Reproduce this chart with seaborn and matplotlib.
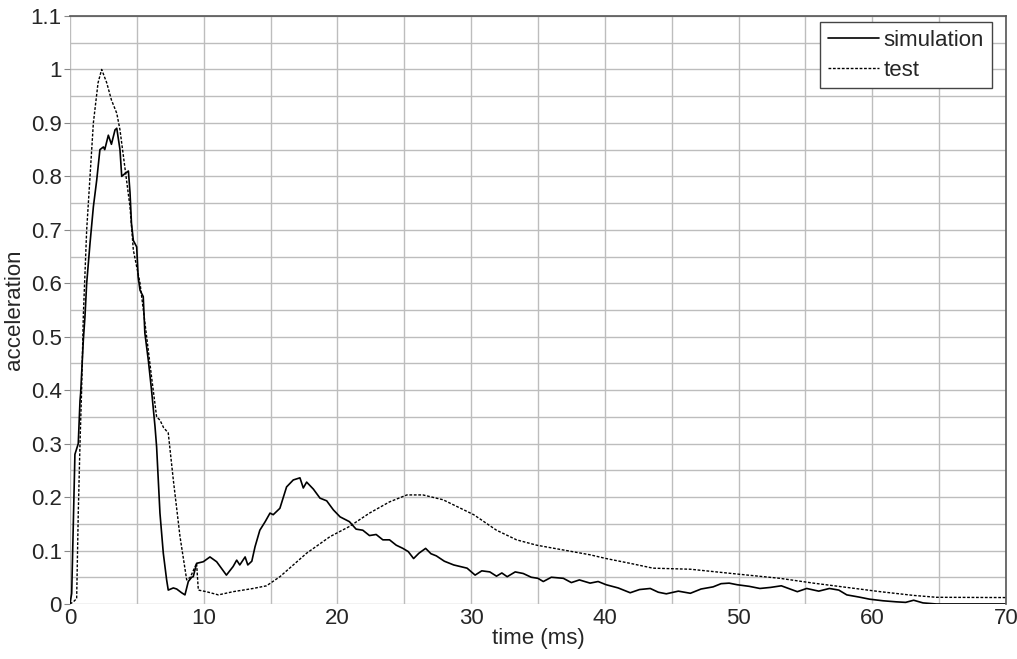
import numpy as np
import pandas as pd
import matplotlib
matplotlib.use("Agg")
import matplotlib.pyplot as plt
import seaborn as sns

# simulation (solid)
sim_t = [0.0, 0.13, 0.25, 0.37, 0.62, 0.75, 0.8, 1.0, 1.12, 1.25, 1.5, 1.75, 2.0, 2.24, 2.5, 2.6,
         2.87, 3.1, 3.37, 3.5, 3.74, 3.87, 4.1, 4.37, 4.49, 4.6, 4.74, 4.99, 5.1, 5.24, 5.48, 5.6,
         5.86, 6.1, 6.36, 6.48, 6.73, 6.98, 7.23, 7.35, 7.73, 7.98, 8.35, 8.6, 8.85, 9.1, 9.22,
         9.47, 9.97, 10.47, 10.97, 11.7, 12.2, 12.47, 12.7, 13.1, 13.3, 13.6, 13.84, 14.2, 14.6,
         14.96, 15.2, 15.7, 16.2, 16.7, 17.2, 17.45, 17.7, 18.2, 18.7, 19.2, 19.7, 20.2, 20.9,
         21.4, 21.9, 22.4, 22.9, 23.4, 23.9, 24.4, 24.9, 25.3, 25.7, 26.1, 26.6, 27.0, 27.4,
         28.0, 28.7, 29.2, 29.7, 30.3, 30.8, 31.4, 31.9, 32.3, 32.7, 33.3, 33.9, 34.5, 35.0,
         35.4, 36.0, 36.9, 37.5, 38.1, 38.9, 39.5, 40.1, 41.0, 41.9, 42.6, 43.4, 44.0, 44.6,
         45.5, 46.4, 47.2, 48.1, 48.7, 49.3, 49.9, 50.8, 51.6, 52.4, 53.2, 54.4, 55.1, 56.0,
         56.8, 57.5, 58.1, 59.0, 59.8, 60.8, 61.8, 62.5, 63.1, 63.8, 64.8, 70.0]
sim_a = [0.0, 0.02, 0.15, 0.28, 0.30, 0.38, 0.395, 0.494, 0.537, 0.60, 0.675, 0.743, 0.793, 0.85,
         0.855, 0.85, 0.877, 0.86, 0.887, 0.89, 0.85, 0.80, 0.805, 0.81, 0.77, 0.712, 0.68, 0.668,
         0.612, 0.587, 0.575, 0.507, 0.456, 0.40, 0.332, 0.294, 0.17, 0.095, 0.045, 0.026, 0.03,
         0.028, 0.021, 0.017, 0.042, 0.05, 0.051, 0.076, 0.079, 0.088, 0.079, 0.054, 0.07, 0.082,
         0.073, 0.088, 0.073, 0.08, 0.107, 0.138, 0.154, 0.17, 0.167, 0.179, 0.219, 0.232, 0.236,
         0.217, 0.228, 0.215, 0.198, 0.193, 0.176, 0.163, 0.154,
         0.140, 0.138, 0.128, 0.13, 0.120, 0.12, 0.110, 0.104, 0.098, 0.085,
         0.095, 0.104, 0.094, 0.09, 0.080, 0.073, 0.070, 0.067, 0.054, 0.062, 0.06, 0.052, 0.058,
         0.051, 0.060, 0.057, 0.050, 0.048, 0.042, 0.050, 0.048, 0.040, 0.045, 0.039, 0.042,
         0.036, 0.030, 0.021, 0.027, 0.029, 0.022, 0.019, 0.024, 0.020, 0.028, 0.032, 0.038, 0.039,
         0.036, 0.033, 0.029, 0.031, 0.034, 0.023, 0.029, 0.024, 0.029, 0.026, 0.017, 0.013, 0.009,
         0.006, 0.004, 0.003, 0.007, 0.002, 0.0, 0.0]

# test (dashed)
test_t = [0.0, 0.25, 0.5, 0.62, 0.75, 0.87, 1.0, 1.25, 1.5, 1.75, 2.1, 2.37, 2.75, 3.1, 3.5, 3.74,
          4.1, 4.49, 4.74, 5.24, 5.7, 6.1, 6.48, 6.73, 7.0, 7.35, 7.73, 8.23, 8.73, 9.0, 9.47,
          9.6, 10.2, 11.1, 12.2, 13.7, 14.7, 15.7, 17.7, 19.45, 20.9, 22.4, 23.9, 25.2, 26.4,
          27.9, 30.2, 31.9, 33.4, 34.9, 36.9, 38.9, 40.1, 41.9, 43.6, 46.4, 49.9, 53.1, 55.6,
          58.1, 60.6, 63.1, 64.8, 70.0]
test_a = [0.0, 0.004, 0.01, 0.17, 0.30, 0.40, 0.54, 0.70, 0.80, 0.90, 0.975, 1.0, 0.975, 0.943,
          0.918, 0.887, 0.818, 0.743, 0.662, 0.60, 0.507, 0.425, 0.35, 0.344, 0.33, 0.32, 0.232,
          0.126, 0.045, 0.05, 0.076, 0.026, 0.023, 0.017, 0.023, 0.029, 0.034, 0.051, 0.095, 0.126,
          0.145, 0.17, 0.191, 0.204, 0.204, 0.195, 0.167, 0.138, 0.12, 0.11, 0.101, 0.092, 0.085,
          0.076, 0.067, 0.065, 0.056, 0.048, 0.039, 0.031, 0.023, 0.016, 0.0125, 0.012]

x_ticks = [0, 10, 20, 30, 40, 50, 60, 70]
y_ticks = [0, 0.1, 0.2, 0.3, 0.4, 0.5, 0.6, 0.7, 0.8, 0.9, 1, 1.1]
y_tick_labels = ["0", "0.1", "0.2", "0.3", "0.4", "0.5", "0.6", "0.7", "0.8", "0.9", "1", "1.1"]

df = pd.concat([
    pd.DataFrame({"time": sim_t, "acc": sim_a, "series": "simulation"}),
    pd.DataFrame({"time": test_t, "acc": test_a, "series": "test"}),
], ignore_index=True)

sns.set_style("white")
plt.rcParams["font.family"] = ["Liberation Sans", "DejaVu Sans"]

fig = plt.figure(figsize=(10.17, 6.59), dpi=100)
ax = fig.add_axes([0.0688, 0.0835, 0.9203, 0.8922])

sns.lineplot(data=df[df.series == "simulation"], x="time", y="acc", ax=ax,
             color="black", lw=1.2, label="simulation", sort=False)
sns.lineplot(data=df[df.series == "test"], x="time", y="acc", ax=ax,
             color="black", lw=1.0, linestyle=(0, (2.0, 1.2)), label="test", sort=False)

ax.set_xlim(0, 70)
ax.set_ylim(0, 1.1)
ax.set_xticks(x_ticks)
ax.set_xticks(np.arange(0, 71, 5), minor=True)
ax.set_yticks(y_ticks)
ax.set_yticklabels(y_tick_labels)
ax.set_yticks(np.arange(0, 1.101, 0.05), minor=True)
ax.grid(True, which="both", color="#bdbdbd", lw=1.0)
ax.set_axisbelow(True)

for s in ["left", "bottom"]:
    ax.spines[s].set_visible(False)
for s in ["top", "right"]:
    ax.spines[s].set_visible(True)
    ax.spines[s].set_color("#555555")
    ax.spines[s].set_linewidth(1.2)

ax.tick_params(axis="y", which="major", length=4, color="#888888", labelsize=16, pad=2, left=True)
ax.tick_params(axis="y", which="minor", length=0)
ax.tick_params(axis="x", which="both", length=0, labelsize=16, pad=3)

ax.set_xlabel("time (ms)", fontsize=16, labelpad=-1)
ax.set_ylabel("acceleration", fontsize=16, labelpad=4)

leg = ax.legend(loc="upper right", fontsize=16, frameon=True, fancybox=False,
                handlelength=2.3, handletextpad=0.2, borderpad=0.35, labelspacing=0.4,
                borderaxespad=0.0, bbox_to_anchor=(0.985, 0.99))
leg.get_frame().set_edgecolor("#444444")
leg.get_frame().set_linewidth(1.0)
leg.get_frame().set_alpha(1.0)

fig.savefig("out.png", dpi=100)
